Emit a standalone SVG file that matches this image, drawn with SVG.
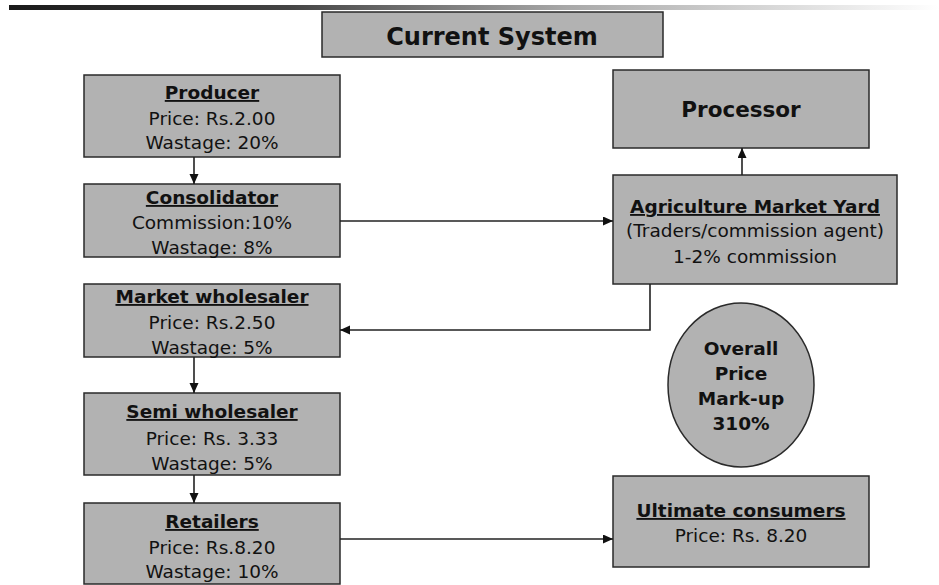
<svg xmlns="http://www.w3.org/2000/svg" width="939" height="585" viewBox="0 0 939 585">
<defs>
<linearGradient id="bar" x1="0" y1="0" x2="1" y2="0">
<stop offset="0" stop-color="#1a1a1a"/>
<stop offset="0.3" stop-color="#444"/>
<stop offset="0.6" stop-color="#a8a8a8"/>
<stop offset="1" stop-color="#ffffff"/>
</linearGradient>
<marker id="ah" markerUnits="userSpaceOnUse" markerWidth="11" markerHeight="10" refX="10" refY="4.5" orient="auto">
<path d="M0,0 L10,4.5 L0,9 z" fill="#111"/>
</marker>
<style>
.box{fill:#b2b2b2;stroke:#2a2a2a;stroke-width:1.5}
.t{font-family:"DejaVu Sans",Verdana,sans-serif;font-size:18.5px;fill:#111;text-anchor:middle}
.b{font-weight:bold;text-decoration:underline}
.bb{font-weight:bold}
.c{fill:none;stroke:#222;stroke-width:1.6;marker-end:url(#ah)}
</style>
</defs>
<rect x="9" y="5" width="930" height="5" fill="url(#bar)"/>

<g id="title">
<rect class="box" x="322" y="12" width="341" height="45"/>
<text class="t bb" x="492" y="45" style="font-size:24px">Current System</text>
</g>

<g id="producer">
<rect class="box" x="84" y="75" width="256" height="82"/>
<text class="t b" x="212" y="99">Producer</text>
<text class="t" x="212" y="125">Price: Rs.2.00</text>
<text class="t" x="212" y="149">Wastage: 20%</text>
</g>

<g id="consolidator">
<rect class="box" x="84" y="184" width="256" height="73"/>
<text class="t b" x="212" y="204">Consolidator</text>
<text class="t" x="212" y="229">Commission:10%</text>
<text class="t" x="212" y="254">Wastage: 8%</text>
</g>

<g id="market-wholesaler">
<rect class="box" x="84" y="284" width="256" height="73"/>
<text class="t b" x="212" y="303">Market wholesaler</text>
<text class="t" x="212" y="329">Price: Rs.2.50</text>
<text class="t" x="212" y="354">Wastage: 5%</text>
</g>

<g id="semi-wholesaler">
<rect class="box" x="84" y="393" width="256" height="82"/>
<text class="t b" x="212" y="418">Semi wholesaler</text>
<text class="t" x="212" y="445">Price: Rs. 3.33</text>
<text class="t" x="212" y="470">Wastage: 5%</text>
</g>

<g id="retailers">
<rect class="box" x="84" y="503" width="256" height="81"/>
<text class="t b" x="212" y="528">Retailers</text>
<text class="t" x="212" y="554">Price: Rs.8.20</text>
<text class="t" x="212" y="578">Wastage: 10%</text>
</g>

<g id="processor">
<rect class="box" x="613" y="70" width="256" height="78"/>
<text class="t bb" x="741" y="117" style="font-size:21.5px">Processor</text>
</g>

<g id="market-yard">
<rect class="box" x="613" y="175" width="284" height="109"/>
<text class="t b" x="755" y="213">Agriculture Market Yard</text>
<text class="t" x="755" y="237">(Traders/commission agent)</text>
<text class="t" x="755" y="263">1-2% commission</text>
</g>

<g id="markup">
<ellipse cx="741" cy="385" rx="73" ry="82" fill="#b2b2b2" stroke="#2a2a2a" stroke-width="1.5"/>
<text class="t bb" x="741" y="355">Overall</text>
<text class="t bb" x="741" y="380">Price</text>
<text class="t bb" x="741" y="405">Mark-up</text>
<text class="t bb" x="741" y="430">310%</text>
</g>

<g id="consumers">
<rect class="box" x="613" y="476" width="256" height="91"/>
<text class="t b" x="741" y="517">Ultimate consumers</text>
<text class="t" x="741" y="542">Price: Rs. 8.20</text>
</g>

<g id="connectors">
<path class="c" d="M194,157 L194,184"/>
<path class="c" d="M340,221 L613,221"/>
<path class="c" d="M742,175 L742,148"/>
<path class="c" d="M650,284 L650,330 L340,330"/>
<path class="c" d="M194,357 L194,393"/>
<path class="c" d="M194,475 L194,503"/>
<path class="c" d="M340,539 L613,539"/>
</g>
</svg>
